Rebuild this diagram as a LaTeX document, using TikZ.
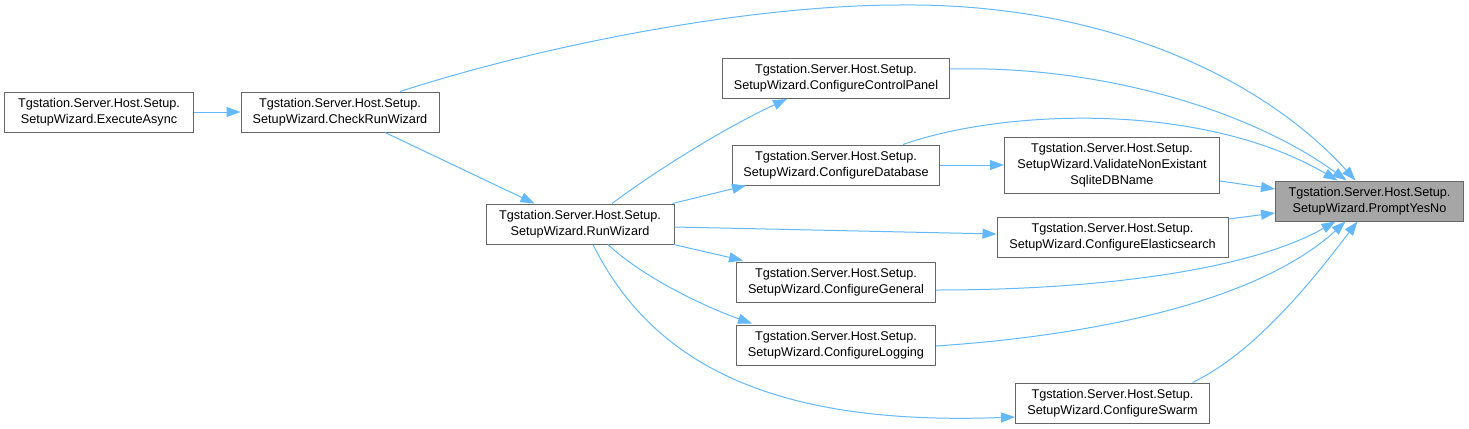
\documentclass[tikz,border=0pt]{standalone}
\usepackage{fontspec}
\setmainfont{Liberation Sans}
\usetikzlibrary{arrows.meta,calc}
\definecolor{edgeblue}{HTML}{63B8FF}
\definecolor{boxgrey}{HTML}{666666}
\definecolor{curfill}{HTML}{A6A6A6}
\begin{document}
\begin{tikzpicture}[x=0.75pt,y=-0.75pt,
  fn/.style={draw=boxgrey, line width=0.75pt, fill=white, align=center, inner sep=0pt,
    minimum height=30pt, font=\fontsize{9.5}{12}\selectfont},
  cur/.style={fn, fill=curfill},
  edge/.style={draw=edgeblue, line width=0.75pt, -{Triangle[length=10.5pt,width=7.5pt]}}]
\useasboundingbox (0,0) rectangle (1469,428);

\node[fn, minimum width=141.75pt] (exec) at (99,112) {Tgstation.Server.Host.Setup.\\SetupWizard.ExecuteAsync};
\node[fn, minimum width=148.5pt] (check) at (340,112) {Tgstation.Server.Host.Setup.\\SetupWizard.CheckRunWizard};
\node[fn, minimum width=141pt] (run) at (580,224) {Tgstation.Server.Host.Setup.\\SetupWizard.RunWizard};
\node[fn, minimum width=170.25pt] (ctrl) at (836,78.5) {Tgstation.Server.Host.Setup.\\SetupWizard.ConfigureControlPanel};
\node[fn, minimum width=155.25pt] (db) at (836,165) {Tgstation.Server.Host.Setup.\\SetupWizard.ConfigureDatabase};
\node[fn, minimum width=161.25pt, minimum height=42pt] (valid) at (1112,165) {Tgstation.Server.Host.Setup.\\SetupWizard.ValidateNonExistant\\SqliteDBName};
\node[cur, minimum width=141pt] (prompt) at (1369.5,201) {Tgstation.Server.Host.Setup.\\SetupWizard.PromptYesNo};
\node[fn, minimum width=173.25pt] (elastic) at (1112.5,237) {Tgstation.Server.Host.Setup.\\SetupWizard.ConfigureElasticsearch};
\node[fn, minimum width=149.25pt] (general) at (836,282) {Tgstation.Server.Host.Setup.\\SetupWizard.ConfigureGeneral};
\node[fn, minimum width=149.25pt] (logging) at (836,345) {Tgstation.Server.Host.Setup.\\SetupWizard.ConfigureLogging};
\node[fn, minimum width=145.5pt] (swarm) at (1112.5,403) {Tgstation.Server.Host.Setup.\\SetupWizard.ConfigureSwarm};

% ExecuteAsync
\draw[edge] (exec.east) -- (check.west);
% CheckRunWizard
\draw[edge] ($(check.south)+(45,0)$) -- ($(run.north west)+(49,0)$);
\draw[edge] ($(check.north)+(60,0)$) .. controls (560,40) and (760,5) .. (900,5)
  .. controls (1100,3) and (1260,75) .. ($(prompt.north)+(-14,0)$);
% RunWizard
\draw[edge] ($(run.north)+(32,0)$) .. controls (650,175) and (720,130) .. ($(ctrl.south west)+(65,0)$);
\draw[edge] ($(run.north east)+(-2,0)$) -- ($(db.south west)+(14,0)$);
\draw[edge] ($(run.east)+(0,3)$) -- ($(elastic.west)+(0,-3)$);
\draw[edge] ($(run.south east)+(-1,0)$) -- ($(general.north west)+(7,-1)$);
\draw[edge] ($(run.south)+(28,0)$) .. controls (640,275) and (700,305) .. ($(logging.north west)+(16,-1)$);
\draw[edge] ($(run.south)+(13,0)$) .. controls (660,380) and (800,425) .. ($(swarm.west)+(0,14)$);
% ConfigureDatabase
\draw[edge] (db.east) -- (valid.west);
\draw[edge] ($(db.north)+(67,0)$) .. controls (1000,110) and (1200,100) .. ($(prompt.north)+(-32,0)$);
% ConfigureControlPanel
\draw[edge] ($(ctrl.east)+(0,-9.5)$) .. controls (1100,65) and (1250,110) .. ($(prompt.north)+(-23,0)$);
% Validate / Elasticsearch
\draw[edge] ($(valid.east)+(0,16)$) -- ($(prompt.west)+(0,-12)$);
\draw[edge] ($(elastic.east)+(0,-18)$) -- ($(prompt.west)+(0,12)$);
% General / Logging / Swarm
\draw[edge] ($(general.east)+(0,8)$) .. controls (1100,290) and (1250,270) .. ($(prompt.south)+(-34,0)$);
\draw[edge] ($(logging.east)+(0,1)$) .. controls (1100,335) and (1260,300) .. ($(prompt.south)+(-24,0)$);
\draw[edge] ($(swarm.north)+(80,0)$) .. controls (1260,350) and (1320,270) .. ($(prompt.south)+(-12,0)$);
\end{tikzpicture}
\end{document}
